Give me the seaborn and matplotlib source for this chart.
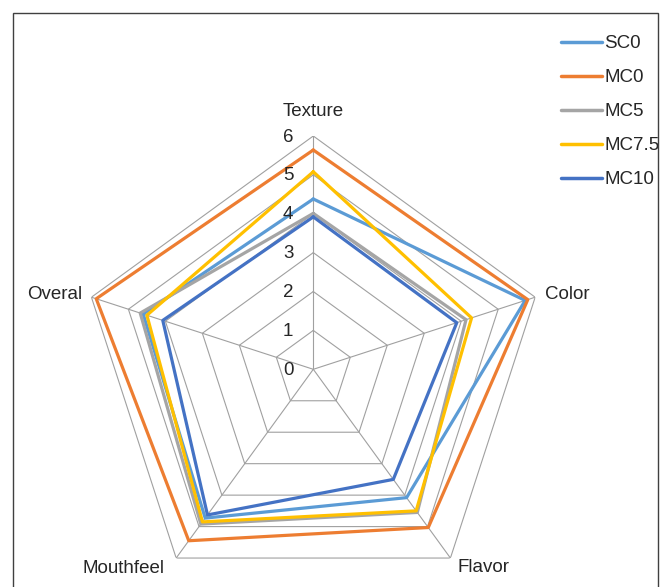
import numpy as np
import pandas as pd
import matplotlib
matplotlib.use('Agg')
import matplotlib.pyplot as plt
import seaborn as sns
from matplotlib.patches import Rectangle

categories = ['Texture', 'Color', 'Flavor', 'Mouthfeel', 'Overal']
SC0 = [4.38, 5.73, 4.08, 4.73, 4.60]
MC0 = [5.64, 5.80, 5.03, 5.45, 5.87]
MC5 = [4.01, 4.13, 4.55, 4.92, 4.68]
MC75 = [5.08, 4.28, 4.50, 4.85, 4.50]
MC10 = [3.92, 3.88, 3.50, 4.63, 4.07]
series_names = ['SC0', 'MC0', 'MC5', 'MC7.5', 'MC10']
r_ticks = [0, 1, 2, 3, 4, 5, 6]

colors = {'SC0': '#5B9BD5', 'MC0': '#ED7D31', 'MC5': '#A5A5A5',
          'MC7.5': '#FFC000', 'MC10': '#4472C4'}

sns.set_style('white')
plt.rcParams['font.family'] = ['Liberation Sans', 'DejaVu Sans']
txt_color = '#262626'
fs = 13.5

angles = np.linspace(0, 2 * np.pi, len(categories), endpoint=False)
theta_closed = np.append(angles, 2 * np.pi)

rows = []
for name, vals in zip(series_names, [SC0, MC0, MC5, MC75, MC10]):
    for t, v in zip(theta_closed, list(vals) + [vals[0]]):
        rows.append({'theta': t, 'value': v, 'series': name})
df = pd.DataFrame(rows)

fig = plt.figure(figsize=(6.67, 5.87), dpi=100)
W, H = 667, 587
cx, cy, R = 313.3, 369.3, 233.3
ax = fig.add_axes([(cx - R) / W, (H - cy - R) / H, 2 * R / W, 2 * R / H],
                  projection='polar')
ax.set_theta_offset(np.pi / 2)
ax.set_theta_direction(-1)
ax.set_ylim(0, 6)
ax.grid(False)
ax.spines['polar'].set_visible(False)
ax.set_xticks([])
ax.set_yticks([])
ax.patch.set_alpha(0)

# pentagon grid
grid_c = '#A0A0A0'
for r in r_ticks[1:]:
    ax.plot(theta_closed, [r] * len(theta_closed), color=grid_c, lw=0.8, zorder=1)
for t in angles:
    ax.plot([t, t], [0, 6], color=grid_c, lw=0.8, zorder=1)

sns.lineplot(data=df, x='theta', y='value', hue='series', hue_order=series_names,
             palette=colors, sort=False, estimator=None, lw=2.3, ax=ax, zorder=3)
for ln in ax.get_lines()[-5:]:
    ln.set_solid_joinstyle('miter')
ax.set_xlabel('')
ax.set_ylabel('')

# radial labels
for r in r_ticks:
    ax.annotate(str(r), xy=(0, r), xytext=(-25, -1), textcoords='offset pixels',
                ha='center', va='center', fontsize=fs, color=txt_color,
                annotation_clip=False)

# category labels
offsets = [(0, 24, 'center'), (10, 3, 'left'), (7, -9, 'left'),
           (-12, -10, 'right'), (-9, 3, 'right')]
for t, lab, (dx, dy, ha) in zip(angles, categories, offsets):
    ax.annotate(lab, xy=(t, 6), xytext=(dx, dy), textcoords='offset pixels',
                ha=ha, va='center', fontsize=fs, color=txt_color,
                annotation_clip=False)

sns.move_legend(ax, loc='upper left', bbox_to_anchor=(561 / W, 1 - 35 / H),
                bbox_transform=fig.transFigure, frameon=False, title=None,
                fontsize=fs, handlelength=2.2, handletextpad=0.12,
                labelspacing=0.9, borderpad=0, borderaxespad=0)
leg = ax.get_legend()
for h in leg.get_lines():
    h.set_linewidth(2.5)
for t in leg.get_texts():
    t.set_color(txt_color)

fig.patches.append(Rectangle((12.5 / W, -0.05), 645.5 / W, 1 - 12.5 / H + 0.05,
                             transform=fig.transFigure, fill=False,
                             edgecolor='#404040', lw=1.0))

fig.savefig('out.png', dpi=100)
